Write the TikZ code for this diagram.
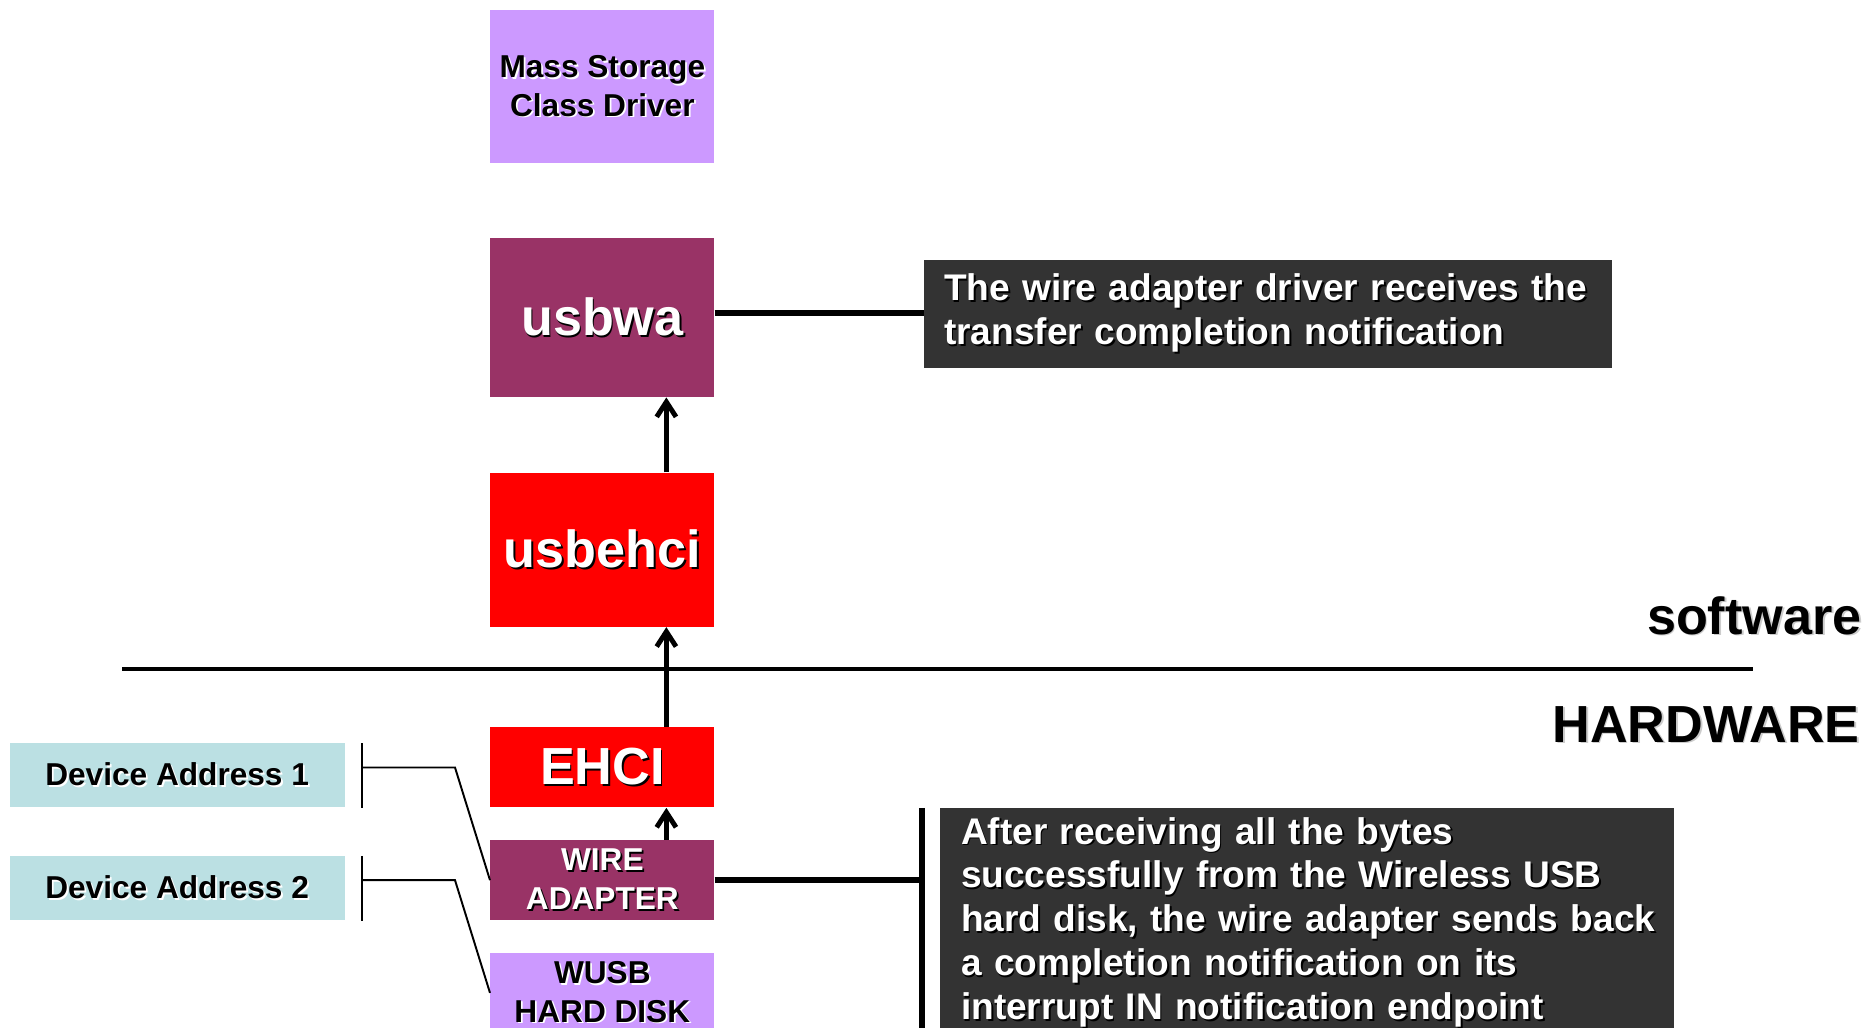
\documentclass[tikz,border=0pt]{standalone}
\usepackage{fontspec}
\setmainfont{Liberation Sans}
\usepackage{xcolor}
\usepackage{tikz}
\usetikzlibrary{arrows.meta, positioning}
\definecolor{wlavender}{HTML}{CC99FF}
\definecolor{wplum}{HTML}{993366}
\definecolor{wred}{HTML}{FF0000}
\definecolor{wteal}{HTML}{BBE0E3}
\definecolor{wdark}{HTML}{333333}
\newcommand{\shtxt}[2][white]{\leavevmode\rlap{\kern1pt\raisebox{-1pt}{\color{#1}#2}}\mbox{#2}}

\begin{document}
\begin{tikzpicture}[
  block/.style={rectangle, minimum width=4.48cm, inner sep=0pt, align=center, font=\fontsize{18}{22}\selectfont\bfseries},
  bigblock/.style={block, text=white, font=\fontsize{29.7}{34}\selectfont\bfseries},
  devbox/.style={rectangle, fill=wteal, minimum width=6.7cm, minimum height=1.28cm, inner sep=0pt, font=\fontsize{18}{22}\selectfont\bfseries},
  note/.style={fill=wdark, text=white, align=left, font=\fontsize{21.1}{25}\selectfont\bfseries},
  layer/.style={inner sep=0pt, font=\fontsize{29.7}{34}\selectfont\bfseries},
  arrow/.style={-{Straight Barb[length=8.5pt, width=11pt, line width=2.8pt]}, line width=2.8pt},
  link/.style={line width=1.1pt},
  bar/.style={line width=3.2pt},
]
\useasboundingbox (0,0) rectangle (37.5,-20.54);
\clip (0,0) rectangle (37.5,-20.54);

% Driver stack
\node[block, fill=wlavender, minimum height=3.06cm, anchor=north west] (msc) at (9.8,-0.2) {\shtxt{Mass Storage}\\\shtxt{Class Driver}};
\node[bigblock, fill=wplum, minimum height=3.18cm, below=1.48cm of msc] (usbwa) {\shtxt[black]{usbwa}};
\node[bigblock, fill=wred, minimum height=3.08cm, below=1.5cm of usbwa] (usbehci) {\shtxt[black]{usbehci}};
\node[bigblock, fill=wred, minimum height=1.6cm, below=2cm of usbehci] (ehci) {\shtxt[black]{EHCI}};
\node[block, fill=wplum, text=white, minimum height=1.6cm, below=0.64cm of ehci] (wa) {\shtxt[black]{WIRE}\\\shtxt[black]{ADAPTER}};
\node[block, fill=wlavender, minimum height=1.6cm, below=0.64cm of wa] (wusb) {\shtxt{WUSB}\\\shtxt{HARD DISK}};

% Device addresses
\node[devbox, anchor=south east] (dev1) at ([xshift=-2.9cm]ehci.south west) {\shtxt{Device Address 1}};
\node[devbox, anchor=south east] (dev2) at ([xshift=-2.9cm]wa.south west) {\shtxt{Device Address 2}};

% Notes
\node[note, right=4.18cm of usbwa, yshift=0.07cm, text width=12.96cm, minimum height=2.16cm, inner xsep=0.4cm] (note1) {\shtxt[black]{The wire adapter driver receives the}\\\shtxt[black]{transfer completion notification}};
\node[note, anchor=north west, text width=13.84cm, inner xsep=0.42cm, inner ysep=0.18cm] (note2) at ([xshift=4.5cm, yshift=0.64cm]wa.north east) {\shtxt[black]{After receiving all the bytes}\\\shtxt[black]{successfully from the Wireless USB}\\\shtxt[black]{hard disk, the wire adapter sends back}\\\shtxt[black]{a completion notification on its}\\\shtxt[black]{interrupt IN notification endpoint}};

% Software / hardware split
\draw[line width=2.4pt] (2.44,-13.38) -- (35.06,-13.38);
\node[layer, anchor=base east] (sw) at (37.24,-12.68) {\shtxt[gray!40]{software}};
\node[layer, anchor=base east] (hw) at (37.2,-14.84) {\shtxt[gray!40]{HARDWARE}};

% Arrows
\draw[arrow] ([xshift=1.28cm]usbehci.north) -- ([xshift=1.28cm]usbwa.south);
\draw[arrow] ([xshift=1.28cm]ehci.north) -- ([xshift=1.28cm]usbehci.south);
\draw[arrow] ([xshift=1.28cm]wa.north) -- ([xshift=1.28cm]ehci.south);

% Address brackets
\draw[link] ([xshift=0.34cm]dev1.north east) -- ([xshift=0.34cm]dev1.south east);
\draw[link] ([xshift=0.34cm, yshift=0.16cm]dev1.east) -- ++(1.86cm,0) -- (wa.west);
\draw[link] ([xshift=0.34cm]dev2.north east) -- ([xshift=0.34cm]dev2.south east);
\draw[link] ([xshift=0.34cm, yshift=0.16cm]dev2.east) -- ++(1.86cm,0) -- (wusb.west);

% Note links
\draw[bar] ([yshift=0.09cm]usbwa.east) -- ([yshift=0.09cm]usbwa.east -| note1.west);
\coordinate (tick) at ([xshift=-0.36cm]note2.north west);
\draw[bar] (tick) -- (tick |- note2.south);
\draw[bar] (wa.east) -- (wa.east -| tick);

\end{tikzpicture}
\end{document}
